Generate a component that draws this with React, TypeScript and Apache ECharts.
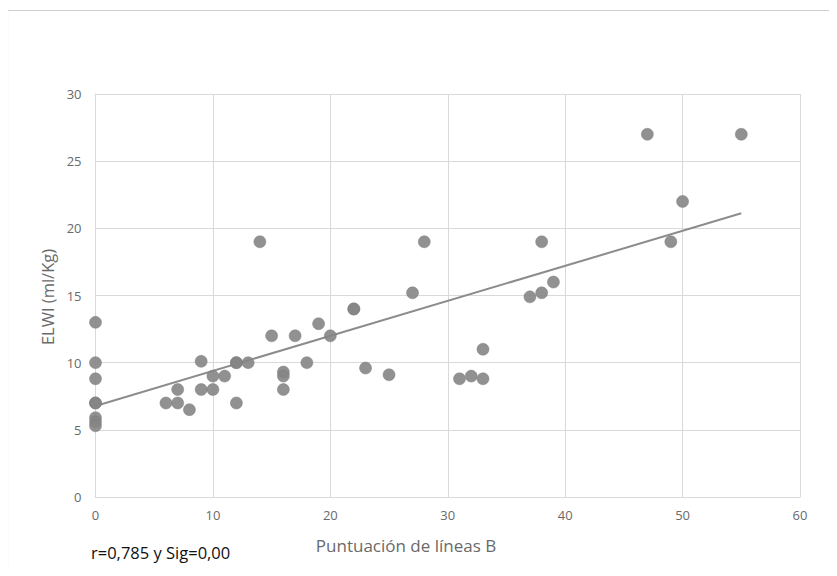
import React, { useEffect, useRef } from "react";
import * as echarts from "echarts";

// Puntuación de líneas B (x) vs ELWI (ml/Kg) (y)
const lineasB: number[] = [
  0, 0, 0, 0, 0, 0, 0, 0,
  6, 7, 7, 8, 9, 9, 10, 10, 11, 12, 12, 12, 13,
  14, 15, 16, 16, 16, 17, 18, 19, 20, 22, 22, 23, 25, 27, 28,
  31, 32, 33, 33, 37, 38, 38, 39, 47, 49, 50, 55,
];
const elwi: number[] = [
  13, 10, 8.8, 7, 7, 5.9, 5.6, 5.3,
  7, 8, 7, 6.5, 10.1, 8, 8, 9, 9, 10, 10, 7, 10,
  19, 12, 9.3, 9, 8, 12, 10, 12.9, 12, 14, 14, 9.6, 9.1, 15.2, 19,
  8.8, 9, 8.8, 11, 14.9, 15.2, 19, 16, 27, 19, 22, 27,
];

// Trendline
const trendIntercept = 6.78;
const trendSlope = 0.2607;
const trendStart = 0;
const trendEnd = 55;

const xTicks = { min: 0, max: 60, interval: 10 };
const yTicks = { min: 0, max: 30, interval: 5 };

const xTitle = "Puntuación de líneas B";
const yTitle = "ELWI (ml/Kg)";
const note = "r=0,785 y Sig=0,00";

export default function App() {
  const ref = useRef<HTMLDivElement>(null);
  useEffect(() => {
    if (!ref.current) return;
    const chart = echarts.init(ref.current, null, { renderer: "svg" });
    const points = lineasB.map((x, i) => [x, elwi[i]]);
    const trend = [
      [trendStart, trendIntercept + trendSlope * trendStart],
      [trendEnd, trendIntercept + trendSlope * trendEnd],
    ];
    const font = "'Open Sans', 'Noto Sans', sans-serif";
    chart.setOption({
      animation: false,
      backgroundColor: "#ffffff",
      textStyle: { fontFamily: font },
      grid: { left: 95.5, right: 37, top: 94, bottom: 79 },
      xAxis: {
        type: "value",
        min: xTicks.min,
        max: xTicks.max,
        interval: xTicks.interval,
        axisLine: { show: true, lineStyle: { color: "#d9d9d9", width: 1 } },
        axisTick: { show: false },
        axisLabel: { color: "#6a6a6a", fontSize: 13, margin: 11, fontFamily: font },
        splitLine: { show: true, lineStyle: { color: "#d9d9d9", width: 1 } },
      },
      yAxis: {
        type: "value",
        min: yTicks.min,
        max: yTicks.max,
        interval: yTicks.interval,
        axisLine: { show: true, lineStyle: { color: "#d9d9d9", width: 1 } },
        axisTick: { show: false },
        axisLabel: { color: "#6a6a6a", fontSize: 13, margin: 14, fontFamily: font },
        splitLine: { show: true, lineStyle: { color: "#d9d9d9", width: 1 } },
      },
      graphic: [
        {
          type: "line",
          shape: { x1: 7.5, y1: 10.5, x2: 7.5, y2: 576 },
          style: { stroke: "#d0d0d0", lineWidth: 1.2 },
          silent: true,
        },
        {
          type: "line",
          shape: { x1: 7.5, y1: 10.5, x2: 837, y2: 10.5 },
          style: { stroke: "#d0d0d0", lineWidth: 1.2 },
          silent: true,
        },
        {
          type: "text",
          x: 406,
          y: 545,
          style: {
            text: xTitle,
            fill: "#6a6a6a",
            fontSize: 17,
            fontFamily: font,
            textAlign: "center",
            textVerticalAlign: "middle",
          },
        },
        {
          type: "text",
          x: 47,
          y: 297,
          rotation: Math.PI / 2,
          style: {
            text: yTitle,
            fill: "#6a6a6a",
            fontSize: 16.5,
            fontFamily: font,
            textAlign: "center",
            textVerticalAlign: "middle",
          },
        },
        {
          type: "text",
          x: 91,
          y: 552,
          style: {
            text: note,
            fill: "#111111",
            fontSize: 16.5,
            fontFamily: font,
            textAlign: "left",
            textVerticalAlign: "middle",
          },
        },
      ],
      series: [
        {
          type: "line",
          data: trend,
          showSymbol: false,
          symbol: "none",
          lineStyle: { color: "#8c8c8c", width: 2 },
          z: 3,
          silent: true,
        },
        {
          type: "scatter",
          data: points,
          symbolSize: 12,
          itemStyle: { color: "#858585", opacity: 0.9, borderColor: "#7a7a7a", borderWidth: 0.5 },
          z: 4,
        },
      ],
    });
    return () => chart.dispose();
  }, []);
  return <div ref={ref} style={{ width: 837, height: 576, margin: -8 }} />;
}
